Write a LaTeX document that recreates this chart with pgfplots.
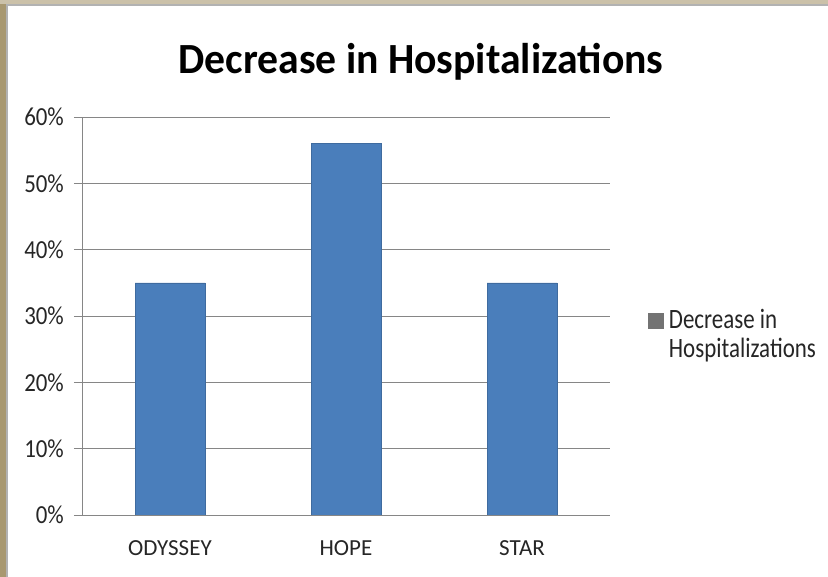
\documentclass[border=0pt]{standalone}
\usepackage{pgfplots}
\pgfplotsset{compat=1.18}
\usepackage{fontspec}
\setmainfont{Carlito}
\definecolor{barblue}{RGB}{74,126,187}
\definecolor{frametan}{RGB}{168,152,112}
\definecolor{gridgray}{RGB}{134,134,134}
\begin{document}
\begin{tikzpicture}[x=1pt,y=1pt]
\useasboundingbox (0,0) rectangle (828,577);
\fill[white] (0,0) rectangle (828,577);
\fill[frametan] (0,0) rectangle (6,577);
\fill[frametan!60] (0,573) rectangle (828,577);
\draw[gray!60, line width=1.5pt] (7,0) -- (7,572) -- (828,572);
\node[font=\fontsize{43}{48}\selectfont\bfseries, xscale=0.97] at (421,515) {Decrease in Hospitalizations};
\begin{axis}[
    at={(82pt,62pt)}, anchor=south west,
    scale only axis, width=528pt, height=398pt,
    xmin=-0.5, xmax=2.5, ymin=0, ymax=60,
    axis lines*=left,
    axis line style={gridgray, line width=0.8pt},
    xtick={0,1,2}, xticklabels={ODYSSEY,HOPE,STAR},
    xtick style={draw=none},
    extra x ticks={0.5,1.5}, extra x tick labels={},
    extra x tick style={grid=none, major tick length=6pt, tick style={gridgray, line width=0.8pt}},
    ytick={0,10,...,60},
    yticklabel={\pgfmathprintnumber{\tick}\%},
    ytick style={gridgray, line width=0.8pt},
    tick align=outside, major tick length=8pt,
    ymajorgrids, grid style={gridgray, line width=0.8pt},
    /pgf/number format/assume math mode=true,
    xticklabel style={font=\fontsize{23}{26}\selectfont, text=black!85, yshift=-14pt},
    yticklabel style={font=\fontsize{26}{30}\selectfont, text=black!85, xscale=0.88, xshift=-8pt},
    legend style={at={(1.065,0.473)}, anchor=west, draw=none, fill=none,
        font=\fontsize{28}{29}\selectfont, text=black!85},
    legend image code/.code={\fill[gray!90!black] (0pt,-1.5pt) rectangle (15pt,13.5pt);
        \path (0pt,-13.5pt) (19pt,-13.5pt);},
]
\addplot[ybar, fill=barblue, draw=barblue!85!black, bar width=70pt]
    coordinates {(0,35) (1,56) (2,35)};
\addlegendentry{\scalebox{0.82}[1]{\begin{tabular}{@{}l@{}}Decrease in\\Hospitalizations\end{tabular}}}
\end{axis}
\end{tikzpicture}
\end{document}
